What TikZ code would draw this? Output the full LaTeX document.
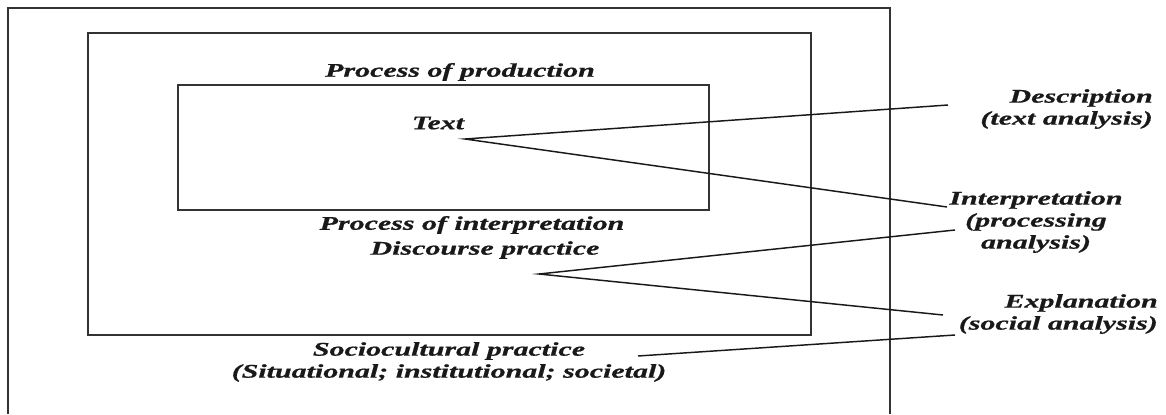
\documentclass[tikz,border=0pt]{standalone}
\usepackage{fontspec}
\setmainfont{Liberation Serif}[FakeStretch=1.55, BoldItalicFeatures={FakeBold=0.8}]
\begin{document}
\begin{tikzpicture}[x=0.75pt,y=-0.75pt,
  lbl/.style={font=\fontsize{14.5}{16.5}\selectfont\bfseries\itshape, inner sep=0pt, text=black!90},
  frame/.style={draw=black!80, line width=1.1pt},
  conn/.style={draw=black!90, line width=1.1pt}]
\useasboundingbox (0,0) rectangle (1166,414);
% frames
\draw[frame] (8,414) -- (8,8) -- (890,8) -- (890,414);
\draw[frame] (88,33) rectangle (811,335);
\draw[frame] (178,85) rectangle (709,210);
% labels
\node[lbl] (prod) at (460,72) {Process of production};
\node[lbl] (text) at (438,123) {Text};
\node[lbl] (interp) at (472,225) {Process of interpretation};
\node[lbl] (disc) at (485,250) {Discourse practice};
\node[lbl, align=center] (socio) at (449,362) {Sociocultural practice\\(Situational; institutional; societal)};
\node[lbl, align=right, anchor=east] (descr) at (1153,109) {Description\\(text analysis)};
\node[lbl, align=center] (interpr) at (1036,222) {Interpretation\\(processing\\analysis)};
\node[lbl, align=right, anchor=east] (expl) at (1158,314) {Explanation\\(social analysis)};
% connector points
\coordinate (a1) at (465,139);
\coordinate (a2) at (539,274);
\coordinate (s1) at (638,356);
\coordinate (d1) at (948,105);
\coordinate (i1) at (947,207);
\coordinate (i2) at (955,230);
\coordinate (e1) at (943,315);
\coordinate (e2) at (955,335);
\draw[conn] (d1) -- (a1) -- (i1);
\draw[conn] (i2) -- (a2) -- (e1);
\draw[conn] (s1) -- (e2);
\end{tikzpicture}
\end{document}
